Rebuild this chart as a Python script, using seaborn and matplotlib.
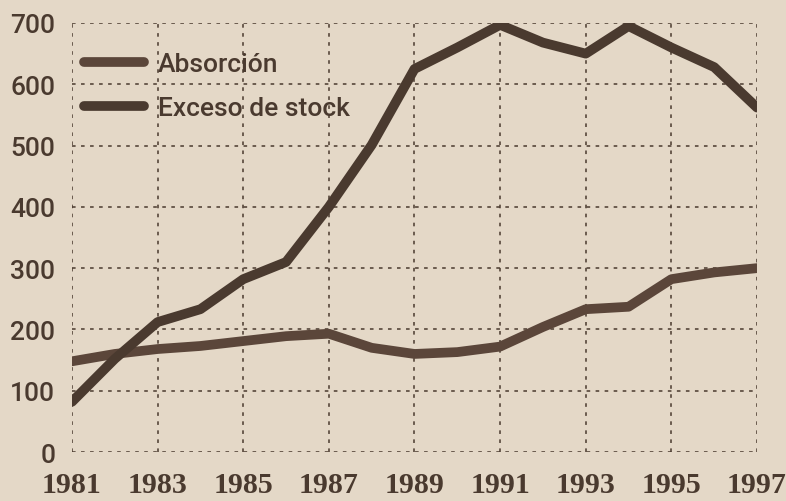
import pandas as pd
import matplotlib
matplotlib.use("Agg")
import matplotlib.pyplot as plt
import seaborn as sns

# datos
years = list(range(1981, 1998))
absorcion = [148, 160, 168, 173, 181, 189, 193, 170, 160, 163, 172, 204, 233, 237, 282, 293, 300]
exceso = [82, 152, 212, 233, 282, 310, 400, 501, 625, 660, 697, 668, 650, 695, 660, 628, 562]
y_ticks = [0, 100, 200, 300, 400, 500, 600, 700]
x_ticks = list(range(1981, 1998, 2))

df = pd.DataFrame({"Año": years * 2,
                   "Valor": absorcion + exceso,
                   "Serie": ["Absorción"] * len(years) + ["Exceso de stock"] * len(years)})

sns.set_theme(style="white")
paper = "#e4d8c7"
ink = "#4a3a2f"
plt.rcParams["font.family"] = ["Roboto", "DejaVu Sans"]

fig = plt.figure(figsize=(7.86, 5.02), dpi=100, facecolor=paper)
ax = fig.add_axes([0.0916, 0.0976, 0.8715, 0.8546], facecolor=paper)

sns.lineplot(data=df, x="Año", y="Valor", hue="Serie",
             palette={"Absorción": "#5b463a", "Exceso de stock": ink},
             linewidth=7, ax=ax, solid_capstyle="round", solid_joinstyle="round")

ax.set_xlim(1981, 1997)
ax.set_ylim(0, 700)
ax.set_xticks(x_ticks)
ax.set_yticks(y_ticks)
ax.set_xlabel("")
ax.set_ylabel("")
for s in ax.spines.values():
    s.set_visible(False)
ax.grid(True, color=ink, linestyle=(0, (2, 3)), linewidth=1.3, alpha=0.85)
ax.set_axisbelow(True)
ax.tick_params(length=0, colors=ink)
ax.tick_params(axis="y", pad=12)
ax.tick_params(axis="x", pad=14)
for t in ax.get_yticklabels():
    t.set_fontsize(19)
    t.set_color(ink)
    t.set_fontweight("medium")
for t in ax.get_xticklabels():
    t.set_fontsize(21.5)
    t.set_color(ink)
    t.set_fontweight("bold")
    t.set_family(["Liberation Serif", "DejaVu Serif"])

leg = ax.legend(loc="upper left", bbox_to_anchor=(-0.01, 0.975), frameon=False,
                prop={"family": ["Roboto", "DejaVu Sans"], "size": 19, "weight": "medium"},
                handlelength=2.3, handletextpad=0.5,
                labelspacing=0.75, borderaxespad=0.3)
for h in leg.get_lines():
    h.set_linewidth(7)
    h.set_solid_capstyle("round")
for t in leg.get_texts():
    t.set_color(ink)

fig.savefig("out.png", dpi=100, facecolor=paper)
